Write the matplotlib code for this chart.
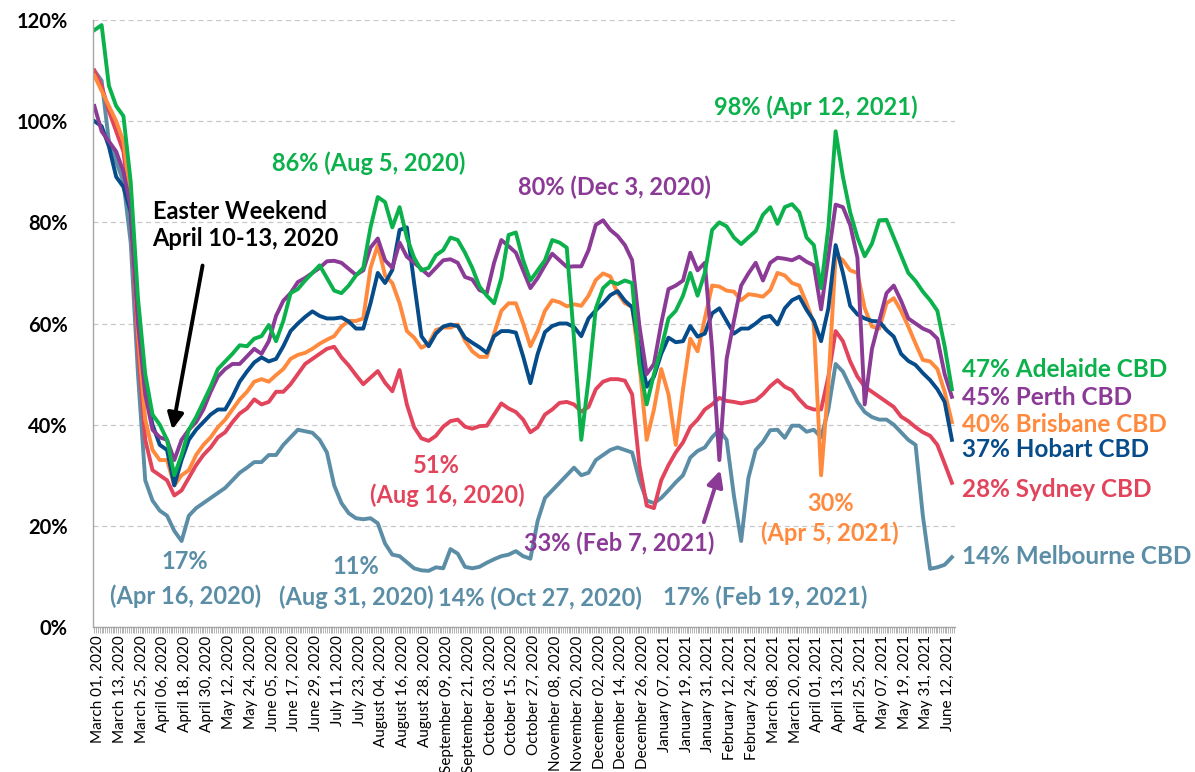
import numpy as np
import pandas as pd
import matplotlib
matplotlib.use("Agg")
import matplotlib.pyplot as plt
import matplotlib.dates as mdates
import matplotlib.ticker as mticker
from matplotlib.transforms import blended_transform_factory

plt.rcParams['font.family'] = ['Lato', 'DejaVu Sans']

# values every 4 days, 28 Feb 2020 .. 14 Jun 2021 (% of baseline)
dates = pd.date_range('2020-02-28', periods=119, freq='4D')

adelaide = [118, 119, 107, 103, 101, 88, 65, 50, 42, 40,
            37, 30, 34, 39, 41.5, 44.5, 47.5, 51, 52.5, 54,
            55.7, 55.5, 57, 57.5, 59.7, 56.5, 60.5, 66, 66.8, 68.5,
            70, 71.5, 69, 66.5, 66, 67.5, 69.5, 71, 79, 85,
            84, 79, 83, 77, 73, 70.5, 71, 73.5, 74.5, 77,
            76.5, 74, 71, 67.3, 65.5, 64, 69, 77.5, 78, 72.5,
            68.5, 70.5, 72.5, 76.5, 76, 75, 57, 37, 49, 63,
            67, 68.3, 67.8, 68.5, 68, 52, 44, 50, 55, 61,
            62.5, 65.5, 70, 65.5, 70, 78.5, 80, 79.2, 77, 75.7,
            77, 78.3, 81.5, 83, 79.7, 83, 83.6, 82, 77, 75.5,
            67, 79, 98, 89, 82, 77, 73.3, 75.8, 80.4, 80.5,
            77, 73.5, 70, 68.4, 66.3, 64.6, 62.5, 55.5, 47]

perth = [103, 98, 96, 94, 90, 83, 60, 46, 39, 37.5,
         37, 33, 37, 39, 40.5, 43, 46.5, 49.5, 51, 52,
         52, 53.5, 55, 54, 56.5, 61.5, 64.5, 66, 68.2, 69,
         70, 71, 72.3, 72.4, 72, 70.8, 69.6, 70.5, 75, 76.8,
         72.5, 71, 76, 73.2, 72, 70.8, 69.5, 71, 72.5, 72.7,
         72, 69.2, 68.7, 66.6, 66, 72, 76.5, 75.3, 74, 70.5,
         67, 69, 71.5, 73.8, 72.5, 71.2, 71.3, 71.3, 74.5, 79.5,
         80.4, 78.5, 77.3, 75.5, 72.5, 59.5, 50, 52, 60, 66.8,
         67.5, 68.5, 74, 70.5, 72, 55, 33, 53, 60.5, 67.5,
         69.9, 72, 68.5, 72, 73, 72.8, 72.5, 73.2, 72.2, 71.5,
         62.8, 73.2, 83.5, 83, 79.5, 73, 44, 55, 60.5, 66,
         67.5, 64.5, 61, 60, 59, 58.4, 57, 50, 45.5]

hobart = [100, 99, 95, 89, 87, 82, 62, 47, 40, 36,
          35, 28, 33, 37, 39, 40.5, 42, 43, 43, 45.5,
          48.5, 50.5, 52.3, 53.3, 52.5, 53, 55.5, 58.5, 60, 61.3,
          62.4, 61.5, 61, 61, 61.2, 60.4, 59, 59, 64, 70,
          68, 70.6, 78.5, 79, 68, 57.5, 55.5, 58, 59.4, 59.8,
          59.5, 57.2, 56.2, 55.3, 54.2, 57.5, 58.5, 58.5, 58.2, 53.5,
          48.2, 54, 58.3, 59.5, 60, 60, 59.3, 57.5, 61, 62.6,
          64, 65.6, 66.4, 64.5, 63.2, 55, 47.5, 49.5, 54, 57.2,
          56.3, 56.5, 59.5, 57.4, 58, 62, 63, 60.5, 58, 59,
          59, 60, 61.2, 61.5, 59.8, 63, 64.6, 65.3, 62.7, 60.5,
          56.5, 63, 75.5, 70, 63.5, 61.8, 61, 60.5, 60.4, 58.7,
          57.4, 54, 52.6, 51.8, 50.2, 48.8, 47, 44.5, 37]

brisbane = [109, 106, 103, 100, 96, 85, 58, 41, 35, 33,
            33, 28, 30, 31, 34, 36, 37.5, 39.5, 41, 43,
            45, 46.5, 48.5, 49, 48.5, 49.8, 51, 53, 53.8, 54.2,
            55, 56, 56.8, 57.5, 59.4, 60.5, 60.5, 61, 71, 75.5,
            69.5, 68, 64, 58.5, 57.2, 55.2, 56, 58.7, 59.2, 59.2,
            59.8, 56.6, 54.5, 53.4, 53.4, 58, 62.5, 64, 64, 60,
            55.5, 58.5, 62.5, 64.6, 64.2, 63.4, 63.8, 63.5, 65.5, 68.6,
            69.9, 69.3, 66, 64, 63.3, 52, 37, 43, 51, 46,
            36, 47, 57, 54.5, 61, 67.5, 67.3, 66.5, 66.3, 64.6,
            65.8, 65.6, 65.3, 66.6, 70, 69.5, 68, 67.5, 64, 60,
            30, 48, 73.5, 72.5, 70.5, 70, 63, 59.4, 59, 64,
            65, 62.5, 59.4, 56, 52.8, 52.5, 51, 46.5, 40.5]

sydney = [110, 107, 102, 98, 94, 82, 55, 37, 31, 30,
          29, 26, 27, 29.5, 32, 34, 35.5, 37.5, 38.5, 40.5,
          42.2, 43.2, 45, 44, 44.5, 46.5, 46.5, 48, 50, 52,
          53, 54, 55, 55.4, 53.3, 51.7, 49.8, 48, 49.3, 50.6,
          48.3, 46.6, 50.8, 44, 39.5, 37.3, 36.8, 37.8, 39.6, 40.7,
          41, 39.6, 39.2, 39.7, 39.8, 42, 44.2, 43.2, 42.5, 41,
          38.5, 39.5, 42, 43, 44.3, 44.5, 44, 42.6, 43.5, 47,
          48.5, 49, 49, 48.7, 46, 32, 24, 23.5, 29, 32,
          34.5, 36.5, 39.5, 41, 43, 44, 45.3, 44.7, 44.5, 44.2,
          44.5, 44.8, 46, 47.6, 48.8, 47.5, 46.8, 45, 43.5, 43,
          43, 49.5, 58.5, 56.5, 52.5, 49.5, 47.5, 46.5, 45.5, 44.5,
          43.5, 41.6, 40.7, 39.5, 38.5, 37.8, 36, 32.3, 28.5]

melbourne = [110, 108, 96, 92, 88, 76, 50, 29, 25, 23,
             22, 19, 17, 22, 23.5, 24.5, 25.5, 26.5, 27.5, 29,
             30.5, 31.5, 32.6, 32.6, 34, 34, 36, 37.5, 39, 38.7,
             38.4, 37, 34.5, 28, 24.5, 22.5, 21.5, 21.3, 21.5, 20.5,
             16.5, 14.3, 14, 12.8, 11.6, 11.2, 11.1, 11.8, 11.6, 15.4,
             14.5, 11.9, 11.6, 11.9, 12.7, 13.4, 14, 14.3, 15, 14,
             13.5, 21, 25.5, 27, 28.5, 30, 31.5, 30, 30.5, 33,
             34, 35, 35.5, 35, 34.5, 29, 25, 24.5, 25.5, 27,
             28.6, 30, 33.5, 34.8, 35.5, 37.5, 39, 37, 26, 17,
             29.5, 35, 36.6, 38.9, 39, 37.4, 39.8, 39.8, 38.6, 39,
             37.5, 43, 52, 50.5, 47.5, 44.5, 42.5, 41.5, 41, 41,
             40, 38.5, 37, 36, 22, 11.5, 11.8, 12.3, 13.8]

end_labels = ['47% Adelaide CBD', '45% Perth CBD', '40% Brisbane CBD',
              '37% Hobart CBD', '28% Sydney CBD', '14% Melbourne CBD']
end_label_y = [51, 45.3, 40.1, 35, 27.1, 14]

c_green = '#0BB14B'
c_purple = '#8B3A96'
c_blue = '#064B8A'
c_orange = '#FF8A3D'
c_red = '#E2445C'
c_grey = '#5B8EA6'

def d(s):
    return mdates.date2num(pd.Timestamp(s))

fig = plt.figure(figsize=(11.95, 7.72), dpi=100)
ax = fig.add_axes([93/1195, 1-627/772, (955-93)/1195, (627-20)/772])

lw = 2.8
ax.plot(dates, melbourne, color=c_grey, lw=lw)
ax.plot(dates, sydney, color=c_red, lw=lw)
ax.plot(dates, brisbane, color=c_orange, lw=lw)
ax.plot(dates, hobart, color=c_blue, lw=lw)
ax.plot(dates, perth, color=c_purple, lw=lw)
ax.plot(dates, adelaide, color=c_green, lw=lw)

start = pd.Timestamp('2020-03-01')
ax.set_xlim(d(start) - 2.75, d(start) + 471.7)
ax.set_ylim(0, 120)

ax.set_yticks(range(0, 121, 20))
ax.yaxis.set_major_formatter(mticker.FuncFormatter(lambda v, p: '%d%%' % v))
ax.tick_params(axis='y', length=0, pad=18, labelsize=14.5)
for t in ax.get_yticklabels():
    t.set_fontweight('bold')
ax.grid(axis='y', color='#C8C8C8', lw=0.9, ls=(0, (4, 3)))
ax.set_axisbelow(True)

ticks = pd.date_range('2020-03-01', periods=40, freq='12D')
ax.set_xticks(ticks)
ax.set_xticklabels([t.strftime('%B %d, %Y') for t in ticks], rotation=90,
                   fontsize=11, ha='center', va='top')
ax.xaxis.set_minor_locator(mdates.DayLocator())
ax.tick_params(axis='x', which='both', length=4, width=0.6, color='#A6A6A6', pad=2)

for s in ['top', 'right']:
    ax.spines[s].set_visible(False)
for s in ['left', 'bottom']:
    ax.spines[s].set_color('#A6A6A6')
    ax.spines[s].set_linewidth(1.0)

fs = 17
ax.text(d('2020-07-28'), 91.7, '86% (Aug 5, 2020)', color=c_green, fontsize=fs,
        fontweight='bold', ha='center', va='center')
ax.text(d('2020-12-10'), 87, '80% (Dec 3, 2020)', color=c_purple, fontsize=fs,
        fontweight='bold', ha='center', va='center')
ax.text(d('2021-03-31'), 102.8, '98% (Apr 12, 2021)', color=c_green, fontsize=fs,
        fontweight='bold', ha='center', va='center')
ax.text(d('2020-03-31'), 79.5, 'Easter Weekend\nApril 10-13, 2020', color='black',
        fontsize=fs, fontweight='bold', ha='left', va='center', linespacing=1.2)
ax.annotate('', xy=(d('2020-04-10 16:00'), 38.5), xytext=(d('2020-04-27 20:00'), 72),
            arrowprops=dict(arrowstyle='-|>', color='black', lw=2.8, mutation_scale=24))
ax.text(d('2020-09-03'), 32, '51%', color=c_red, fontsize=fs, fontweight='bold',
        ha='center', va='center')
ax.text(d('2020-09-09'), 26, '(Aug 16, 2020)', color=c_red, fontsize=fs,
        fontweight='bold', ha='center', va='center')
ax.text(d('2020-04-18'), 13, '17%', color=c_grey, fontsize=fs, fontweight='bold',
        ha='center', va='center')
ax.text(d('2020-04-18'), 6.1, '(Apr 16, 2020)', color=c_grey, fontsize=fs,
        fontweight='bold', ha='center', va='center')
ax.text(d('2020-07-21'), 11.9, '11%', color=c_grey, fontsize=fs, fontweight='bold',
        ha='center', va='center')
ax.text(d('2020-07-21'), 5.9, '(Aug 31, 2020)', color=c_grey, fontsize=fs,
        fontweight='bold', ha='center', va='center')
ax.text(d('2020-10-30'), 5.7, '14% (Oct 27, 2020)', color=c_grey, fontsize=fs,
        fontweight='bold', ha='center', va='center')
ax.text(d('2020-12-13'), 16.6, '33% (Feb 7, 2021)', color=c_purple, fontsize=fs,
        fontweight='bold', ha='center', va='center')
ax.annotate('', xy=(d('2021-02-07'), 31.5), xytext=(d('2021-01-28'), 20.2),
            arrowprops=dict(arrowstyle='-|>', color=c_purple, lw=2.8, mutation_scale=24))
ax.text(d('2021-03-03'), 5.9, '17% (Feb 19, 2021)', color=c_grey, fontsize=fs,
        fontweight='bold', ha='center', va='center')
ax.text(d('2021-04-08'), 24.5, '30%', color=c_orange, fontsize=fs, fontweight='bold',
        ha='center', va='center')
ax.text(d('2021-04-08'), 18.6, '(Apr 5, 2021)', color=c_orange, fontsize=fs,
        fontweight='bold', ha='center', va='center')

trans = blended_transform_factory(ax.transAxes, ax.transData)
end_colors = [c_green, c_purple, c_orange, c_blue, c_red, c_grey]
for lab, yy, cc in zip(end_labels, end_label_y, end_colors):
    ax.text(1.008, yy, lab, transform=trans, color=cc, fontsize=17.5,
            fontweight='bold', ha='left', va='center', clip_on=False)

fig.savefig('out.png', dpi=100)
